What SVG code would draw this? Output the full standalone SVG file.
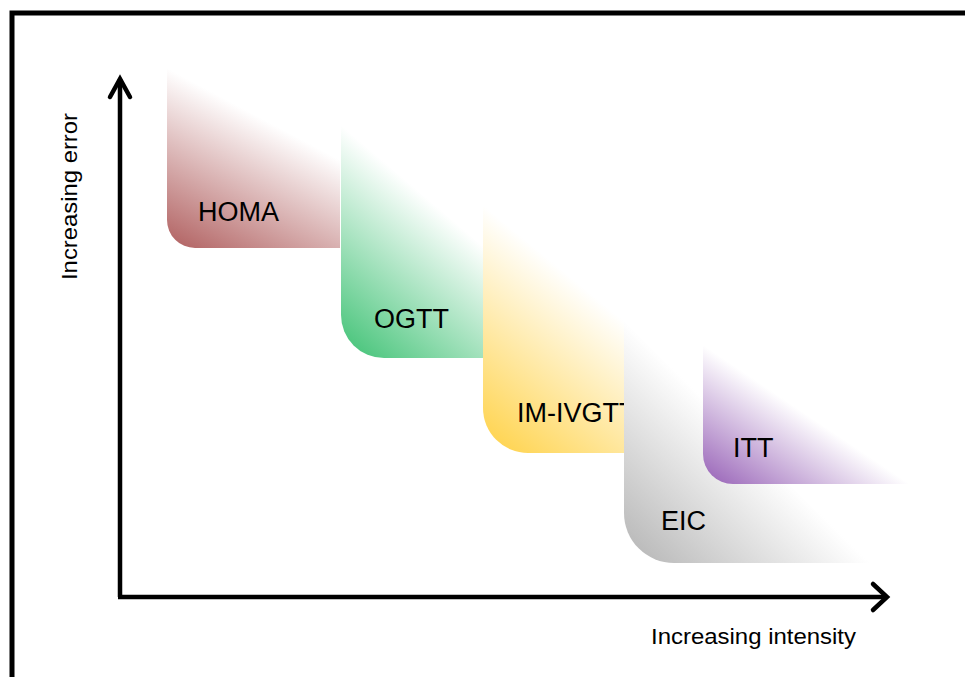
<svg xmlns="http://www.w3.org/2000/svg" width="965" height="677" viewBox="0 0 965 677">
<style>
.lbl{font-family:"Liberation Sans",Arial,sans-serif;font-size:27px;fill:#000}
.ax{font-family:"Liberation Sans",Arial,sans-serif;font-size:22px;fill:#000}
.axis{stroke:#000;stroke-width:4.5;fill:none;stroke-linecap:butt}
.head{stroke:#000;stroke-width:4.5;fill:none;stroke-linecap:round;stroke-linejoin:miter}
</style>
<defs>
<linearGradient id="gHoma" gradientUnits="userSpaceOnUse" x1="167" y1="248" x2="241.5" y2="107.7">
<stop offset="0" stop-color="#b05f5f"/><stop offset="1" stop-color="#ffffff"/>
</linearGradient>
<linearGradient id="gOgtt" gradientUnits="userSpaceOnUse" x1="341" y1="358" x2="456" y2="223">
<stop offset="0" stop-color="#3dc173"/><stop offset="1" stop-color="#ffffff"/>
</linearGradient>
<linearGradient id="gIvgtt" gradientUnits="userSpaceOnUse" x1="483" y1="453" x2="604.6" y2="305">
<stop offset="0" stop-color="#ffd144"/><stop offset="1" stop-color="#ffffff"/>
</linearGradient>
<linearGradient id="gEic" gradientUnits="userSpaceOnUse" x1="624" y1="563" x2="745.5" y2="440">
<stop offset="0" stop-color="#b3b3b3"/><stop offset="1" stop-color="#ffffff"/>
</linearGradient>
<linearGradient id="gItt" gradientUnits="userSpaceOnUse" x1="703" y1="484" x2="767.4" y2="388.2">
<stop offset="0" stop-color="#9660b6"/><stop offset="1" stop-color="#ffffff"/>
</linearGradient>
</defs>
<rect width="965" height="677" fill="#ffffff"/>
<rect id="frame" x="12" y="13" width="1000" height="700" fill="none" stroke="#000" stroke-width="5"/>
<g id="homa">
<path d="M167,68 H340 V248 H195 A28,28 0 0 1 167,220 Z" fill="url(#gHoma)"/>
<text class="lbl" x="198" y="221">HOMA</text>
</g>
<g id="ogtt">
<path d="M341,115 H483 V358 H384 A43,43 0 0 1 341,315 Z" fill="url(#gOgtt)"/>
<text class="lbl" x="374" y="328">OGTT</text>
</g>
<g id="imivgtt">
<path d="M483,195 H624 V453 H528 A45,45 0 0 1 483,408 Z" fill="url(#gIvgtt)"/>
<text class="lbl" x="517" y="422">IM-IVGTT</text>
</g>
<g id="eic">
<path d="M624,305 H905 V563 H674 A50,50 0 0 1 624,513 Z" fill="url(#gEic)"/>
<text class="lbl" x="661" y="530">EIC</text>
</g>
<g id="itt">
<path d="M703,305 H960 V484 H733 A30,30 0 0 1 703,454 Z" fill="url(#gItt)"/>
<text class="lbl" x="733" y="457">ITT</text>
</g>
<g id="connectors">
<path class="axis" d="M120,597 V79"/>
<path class="head" d="M110,97 L120,79 L130,97"/>
<path class="axis" d="M118,597 H886"/>
<path class="head" d="M873,584 L887,597 L873,610"/>
</g>
<text class="ax" x="651" y="644" textLength="205" lengthAdjust="spacingAndGlyphs">Increasing intensity</text>
<text class="ax" transform="translate(77,280) rotate(-90)" x="0" y="0" textLength="167" lengthAdjust="spacingAndGlyphs">Increasing error</text>
</svg>
